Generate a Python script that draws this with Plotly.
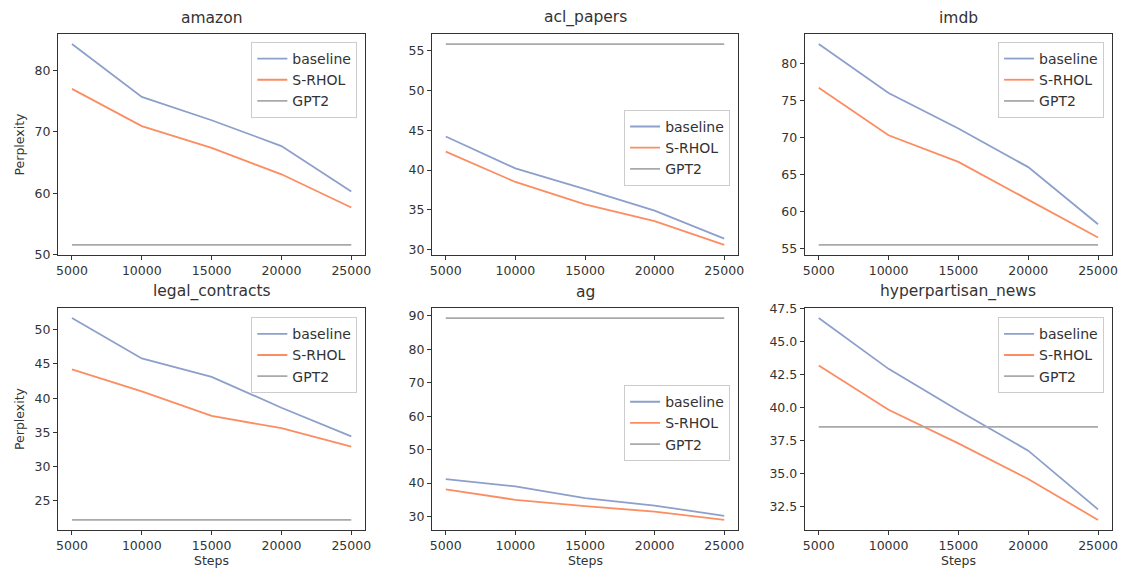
import plotly.graph_objects as go

steps = [5000, 10000, 15000, 20000, 25000]
datasets = ["amazon", "acl_papers", "imdb", "legal_contracts", "ag", "hyperpartisan_news"]

baseline = {
    "amazon": [84.3, 75.7, 71.9, 67.7, 60.3],
    "acl_papers": [44.2, 40.2, 37.6, 34.9, 31.4],
    "imdb": [82.6, 76.0, 71.2, 66.0, 58.3],
    "legal_contracts": [51.7, 45.8, 43.1, 38.6, 34.4],
    "ag": [41.2, 39.0, 35.5, 33.3, 30.2],
    "hyperpartisan_news": [46.8, 42.95, 39.8, 36.75, 32.3],
}
srhol = {
    "amazon": [77.0, 70.95, 67.4, 63.1, 57.7],
    "acl_papers": [42.3, 38.5, 35.7, 33.6, 30.6],
    "imdb": [76.7, 70.3, 66.7, 61.6, 56.5],
    "legal_contracts": [44.2, 41.0, 37.4, 35.6, 32.9],
    "ag": [38.1, 35.0, 33.1, 31.5, 29.0],
    "hyperpartisan_news": [43.2, 39.85, 37.3, 34.6, 31.5],
}
gpt2 = {
    "amazon": 51.6,
    "acl_papers": 55.8,
    "imdb": 55.5,
    "legal_contracts": 22.2,
    "ag": 89.3,
    "hyperpartisan_news": 38.55,
}
ytick_step = {
    "amazon": 10, "acl_papers": 5, "imdb": 5,
    "legal_contracts": 5, "ag": 10, "hyperpartisan_news": 2.5,
}
legend_pos = {  # (x, y) in paper coords, right/top anchored
    "amazon": (0.284, 0.984), "acl_papers": (0.6377, 0.847), "imdb": (0.9925, 0.984),
    "legal_contracts": (0.284, 0.429), "ag": (0.6377, 0.292), "hyperpartisan_news": (0.9925, 0.429),
}

colors = {"baseline": "#8da0cb", "S-RHOL": "#fc8d62", "GPT2": "#a9a9a9"}
FONT = "DejaVu Sans"
TXT = "#333333"

xdomains = [[0.0, 0.2915], [0.3547, 0.6453], [0.7085, 1.0]]
ydomains = [[0.5544, 1.0], [0.0, 0.4476]]

fig = go.Figure()
layout = {}
annotations = []
for i, name in enumerate(datasets):
    r, c = divmod(i, 3)
    n = i + 1
    xa = "x" if n == 1 else f"x{n}"
    ya = "y" if n == 1 else f"y{n}"
    lg = "legend" if n == 1 else f"legend{n}"
    series = [
        ("baseline", baseline[name]),
        ("S-RHOL", srhol[name]),
        ("GPT2", [gpt2[name]] * len(steps)),
    ]
    for label, vals in series:
        fig.add_trace(go.Scatter(
            x=steps, y=vals, mode="lines", name=label,
            line=dict(color=colors[label], width=1.8),
            xaxis=xa, yaxis=ya, legend=lg,
        ))
    allv = baseline[name] + srhol[name] + [gpt2[name]]
    lo, hi = min(allv), max(allv)
    pad = 0.05 * (hi - lo)
    axis_common = dict(
        showgrid=False, zeroline=False, showline=True, mirror=True,
        linecolor=TXT, linewidth=1, ticks="outside", ticklen=4,
        tickcolor=TXT, tickfont=dict(family=FONT, size=12.5, color=TXT),
    )
    layout["xaxis" if n == 1 else f"xaxis{n}"] = dict(
        domain=xdomains[c], anchor=ya, range=[4000, 26000],
        tickmode="linear", tick0=5000, dtick=5000, tickformat="d", **axis_common,
    )
    layout["yaxis" if n == 1 else f"yaxis{n}"] = dict(
        domain=ydomains[r], anchor=xa, range=[lo - pad, hi + pad],
        tickmode="linear", tick0=0, dtick=ytick_step[name],
        tickformat=".1f" if ytick_step[name] < 1 or ytick_step[name] % 1 else "d",
        **axis_common,
    )
    lx, ly = legend_pos[name]
    layout[lg] = dict(
        x=lx, y=ly, xanchor="right", yanchor="top", xref="paper", yref="paper",
        bgcolor="rgba(255,255,255,0.8)", bordercolor="#cccccc", borderwidth=1,
        font=dict(family=FONT, size=14, color=TXT), tracegroupgap=0,
        itemwidth=30,
    )
    annotations.append(dict(
        text=name, xref="paper", yref="paper",
        x=(xdomains[c][0] + xdomains[c][1]) / 2, y=ydomains[r][1],
        xanchor="center", yanchor="bottom", yshift=5, showarrow=False,
        font=dict(family=FONT, size=15.5, color=TXT),
    ))
    if c == 0:
        annotations.append(dict(
            text="Perplexity", xref="paper", yref="paper",
            x=0, y=(ydomains[r][0] + ydomains[r][1]) / 2, xshift=-38,
            xanchor="center", yanchor="middle", textangle=-90, showarrow=False,
            font=dict(family=FONT, size=12.5, color=TXT),
        ))
    if r == 1:
        annotations.append(dict(
            text="Steps", xref="paper", yref="paper",
            x=(xdomains[c][0] + xdomains[c][1]) / 2, y=0, yshift=-30,
            xanchor="center", yanchor="middle", showarrow=False,
            font=dict(family=FONT, size=12.5, color=TXT),
        ))

fig.update_layout(
    width=1126, height=569,
    margin=dict(l=58, r=8, t=34, b=39),
    paper_bgcolor="white", plot_bgcolor="white",
    font=dict(family=FONT, color=TXT),
    annotations=annotations,
    **layout,
)
fig.write_html("out.html")
